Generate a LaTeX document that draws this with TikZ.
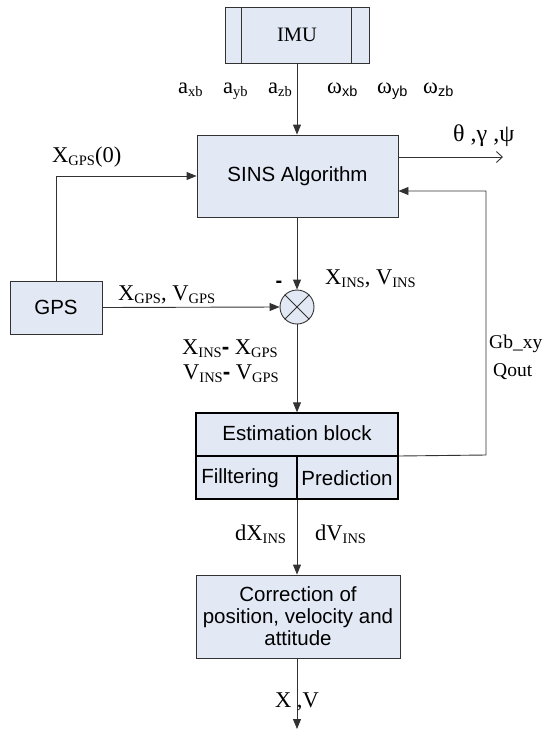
\documentclass[tikz,border=0pt]{standalone}
\usepackage{fontspec}
\setmainfont{Liberation Serif}
\setsansfont{Liberation Sans}
\usetikzlibrary{arrows.meta,calc}
\definecolor{boxfill}{RGB}{226,233,245}
\definecolor{edge}{RGB}{50,50,50}
\newcommand{\sbs}[1]{\raisebox{-3pt}{\fontsize{14.5}{14.5}\selectfont #1}}
\newcommand{\bminus}{{\sffamily\bfseries -}}
\begin{document}
\begin{tikzpicture}[x=1pt,y=-1pt,
  blk/.style={draw=edge,fill=boxfill,line width=0.9pt,inner sep=0pt,align=center,
    font=\sffamily\fontsize{20.5}{22}\selectfont},
  txt/.style={inner sep=0pt,font=\sffamily\fontsize{20.5}{22}\selectfont},
  conn/.style={draw=edge,line width=0.9pt,-{Triangle[length=10pt,width=8pt]}},
  lbl/.style={inner sep=0pt,anchor=base west,font=\rmfamily\fontsize{22.5}{24}\selectfont},
]
\useasboundingbox (0,0) rectangle (542,729);

% blocks
\node[blk,minimum width=144pt,minimum height=56pt,font=\rmfamily\fontsize{20.5}{22}\selectfont] (imu) at (297,35) {IMU};
\draw[edge,line width=0.9pt] ([xshift=17pt]imu.north west) -- ([xshift=17pt]imu.south west)
  ([xshift=-18pt]imu.north east) -- ([xshift=-18pt]imu.south east);
\node[blk,minimum width=201pt,minimum height=82pt] (sins) at (297.5,176) {SINS Algorithm};
\node[blk,minimum width=92pt,minimum height=53pt] (gps) at (56,307.5) {GPS};
\node[circle,draw=edge,fill=boxfill,line width=0.9pt,minimum size=34pt,inner sep=0pt] (sum) at (297,307) {};
\draw[edge,line width=0.9pt] (sum.north east) -- (sum.south west) (sum.north west) -- (sum.south east);
\node[blk,draw=black,line width=1.4pt,minimum width=202pt,minimum height=86pt] (est) at (297,456) {};
\draw[black,line width=1.4pt] (est.west) -- (est.east);
\draw[black,line width=1.4pt] (est.center) -- (est.south);
\node[txt] (esttitle) at (297,433) {Estimation block};
\node[txt] (filt) at (240,478) {Filltering};
\node[txt] (pred) at (347,478) {Prediction};
\node[blk,minimum width=204pt,minimum height=83pt] (corr) at (298,616.5) {Correction of\\position, velocity and\\attitude};

% connectors
\coordinate (outend) at (503,157);
\coordinate (fbc) at (486,455);
\coordinate (xvend) at (297,729);
\draw[conn] (imu.south) -- (imu.south |- sins.north);
\draw[conn] (gps.north) |- (sins.west);
\draw[conn] (gps.east) -- (sum.west);
\draw[conn] (sins.south -| sum.north) -- (sum.north);
\draw[conn] (sum.south) -- (sum.south |- est.north);
\draw[edge,line width=0.9pt,-{Straight Barb[length=6pt,width=11pt]}] (sins.east |- outend) -- (outend);
\draw[conn] (est.east) -- (fbc) |- ($(sins.east)+(0,15)$);
\draw[conn] (est.south) -- (est.south |- corr.north);
\draw[conn] (corr.south -| xvend) -- (xvend);

% labels
\node[lbl] (axb) at (178,93) {a\sbs{xb}};
\node[lbl] (ayb) at (223,93) {a\sbs{yb}};
\node[lbl] (azb) at (268,93) {a\sbs{zb}};
\node[lbl] (wxb) at (327,93) {ω\sbs{\sffamily xb}};
\node[lbl] (wyb) at (377,93) {ω\sbs{\sffamily yb}};
\node[lbl] (wzb) at (423,93) {ω\sbs{\sffamily zb}};
\node[lbl,font=\rmfamily\fontsize{24}{24}\selectfont] (angles) at (453,141) {θ ,γ ,ψ};
\node[lbl] (xgps0) at (52,162) {X\sbs{GPS}(0)};
\node[lbl] (xvgps) at (118,300) {X\sbs{GPS}, V\sbs{GPS}};
\node[lbl] (xvins) at (325,284) {X\sbs{INS}, V\sbs{INS}};
\node[inner sep=0pt,anchor=base,font=\sffamily\bfseries\fontsize{20}{20}\selectfont] (minus) at (279,287) {-};
\node[lbl] (dx) at (182,354) {X\sbs{INS}\bminus\ X\sbs{GPS}};
\node[lbl] (dv) at (183,379) {V\sbs{INS}\bminus\ V\sbs{GPS}};
\node[lbl,font=\rmfamily\fontsize{19.5}{22}\selectfont] (gbxy) at (489,348) {Gb\_xy};
\node[lbl,font=\rmfamily\fontsize{19.5}{22}\selectfont] (qout) at (493,376) {Qout};
\node[lbl] (dxins) at (235,540) {dX\sbs{INS}};
\node[lbl] (dvins) at (315,540) {dV\sbs{INS}};
\node[inner sep=0pt,anchor=base,font=\rmfamily\fontsize{22.5}{24}\selectfont] (xv) at (297,707) {X ,V};
\end{tikzpicture}
\end{document}
